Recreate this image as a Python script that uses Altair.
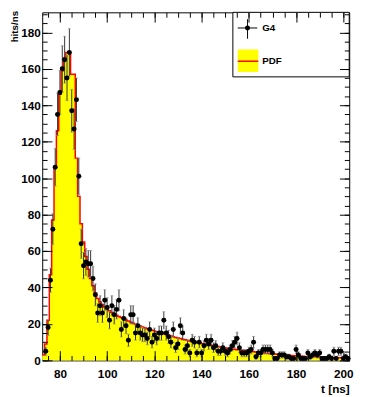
import altair as alt
import pandas as pd

FONT = "Liberation Sans"

BIN_START = 72.5
BIN_WIDTH = 1.0
X_DOMAIN = [72.5, 202.5]
Y_DOMAIN = [0, 191]

# PDF histogram contents, bins centred on 73 ... 202 ns
pdf_values = [
    3, 9, 22, 47, 77, 106, 126, 146, 159, 166,
    169, 169, 157, 157, 111, 90, 75, 65, 57, 50,
    45, 41, 37, 34, 32, 30.5, 29.3, 28.2, 27.2, 26.3,
    25.5, 24.8, 24.1, 23.5, 22.8, 22.2, 21.6, 21.0, 20.4, 19.9,
    19.4, 18.9, 18.4, 17.9, 17.4, 17.0, 16.6, 16.2, 15.8, 15.4,
    15.0, 14.6, 14.2, 13.8, 13.4, 13.0, 12.6, 12.3, 12.0, 11.6,
    11.3, 11.0, 10.7, 10.4, 10.1, 9.8, 9.5, 9.3, 9.0, 8.8,
    8.5, 8.3, 8.0, 7.8, 7.6, 7.4, 7.1, 6.9, 6.7, 6.5,
    6.3, 6.1, 5.9, 5.8, 5.6, 5.4, 5.3, 5.1, 4.9, 4.8,
    4.6, 4.5, 4.3, 4.2, 4.0, 3.9, 3.7, 3.6, 3.5, 3.4,
    3.2, 3.1, 3.0, 2.9, 2.8, 2.7, 2.6, 2.5, 2.45, 2.4,
    2.3, 2.2, 2.15, 2.1, 2.0, 1.95, 1.9, 1.85, 1.8, 1.75,
    1.7, 1.65, 1.6, 1.55, 1.5, 1.5, 1.45, 1.4, 1.4, 1.35,
]

# G4 simulated counts, same bins
g4_counts = [
    0, 5, 18, 44, 72, 106, 135, 147, 160, 165,
    155, 169, 137, 127, 143, 101, 64, 52, 54, 53,
    53, 45, 36, 26, 30, 26, 33, 29, 22, 30,
    25, 28, 33, 17, 23, 19, 11, 25, 25, 15,
    19, 15, 14, 14, 12, 17, 10, 14, 12, 15,
    15, 22, 15, 13, 10, 17, 7, 9, 19, 15,
    6, 8, 4, 11, 10, 4, 10, 4, 8, 11,
    9, 11, 7, 8, 5, 5, 7, 5, 4, 6,
    8, 10, 12, 7, 4, 4, 4, 5, 6, 10,
    2, 4, 4, 6, 6, 6, 6, 4, 1, 1,
    3, 3, 3, 2, 2, 1, 1, 6, 3, 1,
    1, 1, 4, 2, 3, 4, 3, 4, 1, 1,
    1, 2, 1, 5, 1, 5, 5, 1, 2, 1,
]

x_major_values = [80, 100, 120, 140, 160, 180, 200]
x_minor_values = list(range(75, 201, 5))
y_major_values = [0, 20, 40, 60, 80, 100, 120, 140, 160, 180]
y_minor_values = list(range(0, 191, 5))

n_bins = len(pdf_values)
edges = [BIN_START + i * BIN_WIDTH for i in range(n_bins + 1)]
centers = [BIN_START + (i + 0.5) * BIN_WIDTH for i in range(n_bins)]

pdf_df = pd.DataFrame({"x": edges, "y": pdf_values + [pdf_values[-1]]})
g4_df = pd.DataFrame({"x": centers, "n": g4_counts})
g4_df = g4_df[g4_df["n"] > 0].reset_index(drop=True)

xs = alt.Scale(domain=X_DOMAIN, nice=False, zero=False)
ys = alt.Scale(domain=Y_DOMAIN, nice=False, zero=False)


def ax(**kw):
    base = dict(grid=False, domain=False, zindex=1, tickColor="black",
                tickWidth=1, labels=False, title=None)
    base.update(kw)
    return alt.Axis(**base)


label_style = dict(labels=True, labelFont=FONT, labelFontWeight="bold",
                   labelFontSize=12, labelColor="black", labelFlush=False,
                   labelOverlap=False)

x_bottom_major = ax(orient="bottom", values=x_major_values, offset=-10, tickSize=10,
                    labelPadding=8, title="t [ns]", titleFont=FONT,
                    titleFontWeight="bold", titleFontSize=12, titleColor="black",
                    titleAnchor="end", titleAlign="right", titleBaseline="alphabetic",
                    titleX=314, titleY=43, **label_style)
y_left_major = ax(orient="left", values=y_major_values, offset=-10, tickSize=10,
                  labelPadding=2, title="hits/ns", titleFont=FONT,
                  titleFontWeight="bold", titleFontSize=10, titleColor="black",
                  titleAngle=270, titleAnchor="end", titleAlign="right",
                  titleBaseline="alphabetic", titleX=-35, titleY=-2, **label_style)

x_bottom_minor = ax(orient="bottom", values=x_minor_values, offset=-5, tickSize=5)
y_left_minor = ax(orient="left", values=y_minor_values, offset=-5, tickSize=5)
x_top_major = ax(orient="top", values=x_major_values, offset=-10, tickSize=10)
y_right_major = ax(orient="right", values=y_major_values, offset=-10, tickSize=10)
x_top_minor = ax(orient="top", values=x_minor_values, offset=-5, tickSize=5)
y_right_minor = ax(orient="right", values=y_minor_values, offset=-5, tickSize=5)

area = alt.Chart(pdf_df).mark_area(interpolate="step-after", color="#ffff00").encode(
    x=alt.X("x:Q", scale=xs, axis=x_bottom_major),
    y=alt.Y("y:Q", scale=ys, axis=y_left_major),
)
line = alt.Chart(pdf_df).mark_line(interpolate="step-after", color="#ff0000",
                                   strokeWidth=1.5).encode(
    x=alt.X("x:Q", scale=xs, axis=x_bottom_minor),
    y=alt.Y("y:Q", scale=ys, axis=y_left_minor),
)

err_base = alt.Chart(g4_df).transform_calculate(
    lo="datum.n - sqrt(datum.n)", hi="datum.n + sqrt(datum.n)"
)
bars = err_base.mark_rule(color="#333333", strokeWidth=1).encode(
    x=alt.X("x:Q", scale=xs, axis=x_top_major),
    y=alt.Y("lo:Q", scale=ys, axis=y_right_major),
    y2="hi:Q",
)
caps = err_base.transform_fold(["lo", "hi"], as_=["end", "v"]).mark_tick(
    orient="horizontal", color="#8a8a8a", size=3, thickness=1
).encode(
    x=alt.X("x:Q", scale=xs, axis=x_top_minor),
    y=alt.Y("v:Q", scale=ys, axis=y_right_minor),
)
points = alt.Chart(g4_df).mark_circle(color="black", size=26, opacity=1).encode(
    x=alt.X("x:Q", scale=xs, axis=None),
    y=alt.Y("n:Q", scale=ys, axis=None),
)

one = pd.DataFrame({"k": [0]})
leg_box = alt.Chart(one).mark_rect(fill="white", stroke="black", strokeWidth=1).encode(
    x=alt.value(195), x2=alt.value(314), y=alt.value(0), y2=alt.value(66))
leg_h = alt.Chart(one).mark_rule(color="black", strokeWidth=1).encode(
    x=alt.value(200), x2=alt.value(220), y=alt.value(16))
leg_v = alt.Chart(one).mark_rule(color="black", strokeWidth=1).encode(
    x=alt.value(210), y=alt.value(7), y2=alt.value(27))
leg_dot = alt.Chart(one).mark_circle(color="black", size=26, opacity=1).encode(
    x=alt.value(210), y=alt.value(16))
leg_fill = alt.Chart(one).mark_rect(fill="#ffff00").encode(
    x=alt.value(200), x2=alt.value(221), y=alt.value(38), y2=alt.value(61))
leg_red = alt.Chart(one).mark_rule(color="#ff0000", strokeWidth=1.5).encode(
    x=alt.value(200), x2=alt.value(221), y=alt.value(50))
leg_t1 = alt.Chart(one).mark_text(text="G4", align="left", baseline="middle",
                                  font=FONT, fontWeight="bold", fontSize=10,
                                  color="black").encode(x=alt.value(225), y=alt.value(16))
leg_t2 = alt.Chart(one).mark_text(text="PDF", align="left", baseline="middle",
                                  font=FONT, fontWeight="bold", fontSize=10,
                                  color="black").encode(x=alt.value(225), y=alt.value(50))

chart = alt.layer(
    area, line, bars, caps, points,
    leg_box, leg_h, leg_v, leg_dot, leg_fill, leg_red, leg_t1, leg_t2,
).resolve_axis(
    x="independent", y="independent"
).properties(
    width=314, height=356,
    autosize=alt.AutoSizeParams(type="none"),
    padding={"left": 35, "top": 0, "right": 10, "bottom": 33},
    background="white",
).configure_view(stroke="black", strokeWidth=1)

chart.save("out.html", embed_options={"renderer": "svg", "actions": False})
